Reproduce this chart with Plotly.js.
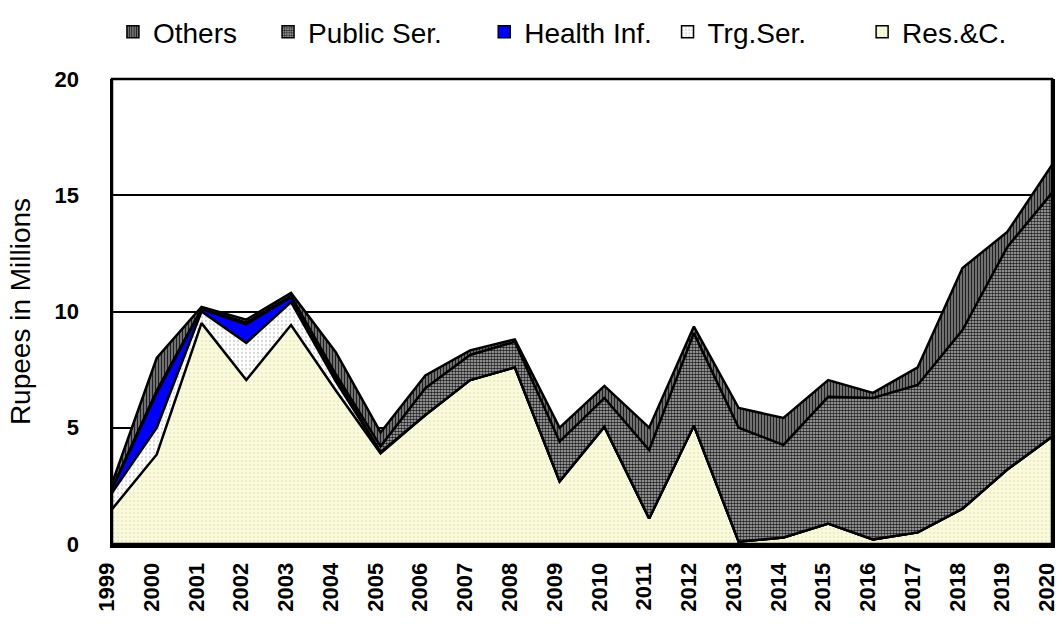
<!DOCTYPE html>
<html>
<head>
<meta charset="utf-8">
<script src="https://cdn.plot.ly/plotly-3.0.1.min.js"></script>
<style>
  html, body { margin: 0; padding: 0; background: #fff; }
  #chart { width: 1058px; height: 626px; }
</style>
</head>
<body>
<div id="chart"></div>
<script>
// ---- Data (Rupees in Millions) ----
const years = [1999, 2000, 2001, 2002, 2003, 2004, 2005, 2006, 2007, 2008, 2009, 2010,
               2011, 2012, 2013, 2014, 2015, 2016, 2017, 2018, 2019, 2020];
const resC      = [1.5, 3.85, 9.5, 7.05, 9.42, 6.6, 3.9, 5.55, 7.05, 7.6, 2.7, 5.05,
                   1.1, 5.1, 0.1, 0.28, 0.88, 0.2, 0.5, 1.52, 3.2, 4.62];
const trgSer    = [0.7, 1.15, 0.5, 1.6, 0.98, 0.4, 0.05, 0, 0, 0, 0, 0,
                   0, 0, 0, 0, 0, 0, 0, 0, 0, 0];
const healthInf = [0.15, 1.5, 0.1, 0.8, 0.22, 0.15, 0, 0, 0, 0, 0, 0,
                   0, 0, 0, 0, 0, 0, 0, 0, 0, 0];
const publicSer = [0.05, 0.1, 0.02, 0.07, 0.05, 0.15, 0.25, 1.15, 1.08, 1.1, 1.7, 1.23,
                   2.94, 3.97, 4.9, 3.98, 5.45, 6.08, 6.34, 7.68, 9.57, 10.48];
const others    = [0.2, 1.4, 0.08, 0.13, 0.13, 0.95, 0.6, 0.55, 0.2, 0.1, 0.6, 0.52,
                   0.96, 0.28, 0.85, 1.16, 0.72, 0.22, 0.76, 2.67, 0.65, 1.2];
const seriesNames = ["Res.&C.", "Trg.Ser.", "Health Inf.", "Public Ser.", "Others"];
const legendOrder = ["Others", "Public Ser.", "Health Inf.", "Trg.Ser.", "Res.&C."];
const yTicks = [0, 5, 10, 15, 20];

// ---- Styles ----
const styles = {
  "Res.&C.":     {bg: "#FAFADC", fg: "#ECECC8", shape: ".", size: 4, sol: 0.25},
  "Trg.Ser.":    {bg: "#FFFFFF", fg: "#D8D8D8", shape: ".", size: 4, sol: 0.25},
  "Health Inf.": {bg: "#0000FF", fg: "#0000FF", shape: "",  size: 4, sol: 0.3},
  "Public Ser.": {bg: "#B8B8B8", fg: "#202020", shape: ".", size: 3, sol: 0.55},
  "Others":      {bg: "#8A8A8A", fg: "#202020", shape: "|", size: 3, sol: 0.5}
};
const valuesByName = {
  "Res.&C.": resC, "Trg.Ser.": trgSer, "Health Inf.": healthInf,
  "Public Ser.": publicSer, "Others": others
};
// legend item left positions (paper fraction), one small legend per entry
const legendX = [0.001, 0.166, 0.396, 0.591, 0.798];

const FONT = "Liberation Sans, Arial, sans-serif";
const traces = [];
seriesNames.forEach(name => {
  const s = styles[name];
  traces.push({
    type: "scatter", mode: "lines", name: name,
    x: years, y: valuesByName[name],
    stackgroup: "one",
    line: {color: "#000", width: 2.5},
    fillcolor: s.bg,
    fillpattern: s.shape ? {shape: s.shape, bgcolor: s.bg, fgcolor: s.fg, size: s.size, solidity: s.sol} : undefined,
    showlegend: false,
    hoverinfo: "x+y+name"
  });
});
// legend entries (square patches)
legendOrder.forEach((name, i) => {
  const s = styles[name];
  traces.push({
    type: "bar", name: name, x: [null], y: [null],
    legend: i === 0 ? "legend" : "legend" + (i + 1),
    marker: {
      color: s.bg,
      line: {color: "#000", width: 1.5},
      pattern: s.shape ? {shape: s.shape, bgcolor: s.bg, fgcolor: s.fg, size: s.size, solidity: s.sol} : undefined
    },
    showlegend: true, hoverinfo: "skip"
  });
});

const layout = {
  width: 1058, height: 626,
  margin: {l: 112, r: 6, t: 79, b: 82, pad: 0},
  paper_bgcolor: "#fff", plot_bgcolor: "#fff",
  font: {family: FONT, color: "#000"},
  showlegend: true,
  xaxis: {
    range: [1999, 2020], tickmode: "array", tickvals: years, ticktext: years.map(String),
    tickangle: -90, tickfont: {size: 22, family: FONT, weight: "bold"},
    ticklabeloverflow: "allow", ticklabelstandoff: 6, ticklabelshift: -5,
    showgrid: false, zeroline: false, showline: true, linecolor: "#000", linewidth: 4,
    mirror: false, ticks: "", fixedrange: true
  },
  yaxis: {
    range: [0, 20], tickmode: "array", tickvals: yTicks, ticktext: yTicks.map(String),
    tickfont: {size: 22, family: FONT, weight: "bold"},
    ticks: "", ticklabelstandoff: 26,
    showgrid: true, gridcolor: "#000", gridwidth: 2,
    zeroline: false, showline: true, linecolor: "#000", linewidth: 2.5, mirror: true,
    title: {text: "Rupees in Millions", font: {size: 28, family: FONT}, standoff: 16},
    fixedrange: true
  },
  shapes: [{
    type: "rect", xref: "paper", yref: "paper", x0: 0, x1: 1, y0: 0, y1: 1,
    line: {color: "#000", width: 2.5}, fillcolor: "rgba(0,0,0,0)", layer: "above"
  }]
};
legendOrder.forEach((name, i) => {
  const key = i === 0 ? "legend" : "legend" + (i + 1);
  layout[key] = {
    orientation: "h", x: legendX[i], xanchor: "left", y: 1.155, yanchor: "top",
    font: {size: 28, color: "#000", family: FONT},
    itemclick: false, itemdoubleclick: false, bgcolor: "rgba(0,0,0,0)", borderwidth: 0
  };
});

Plotly.newPlot("chart", traces, layout, {displayModeBar: false, staticPlot: true});
</script>
</body>
</html>
